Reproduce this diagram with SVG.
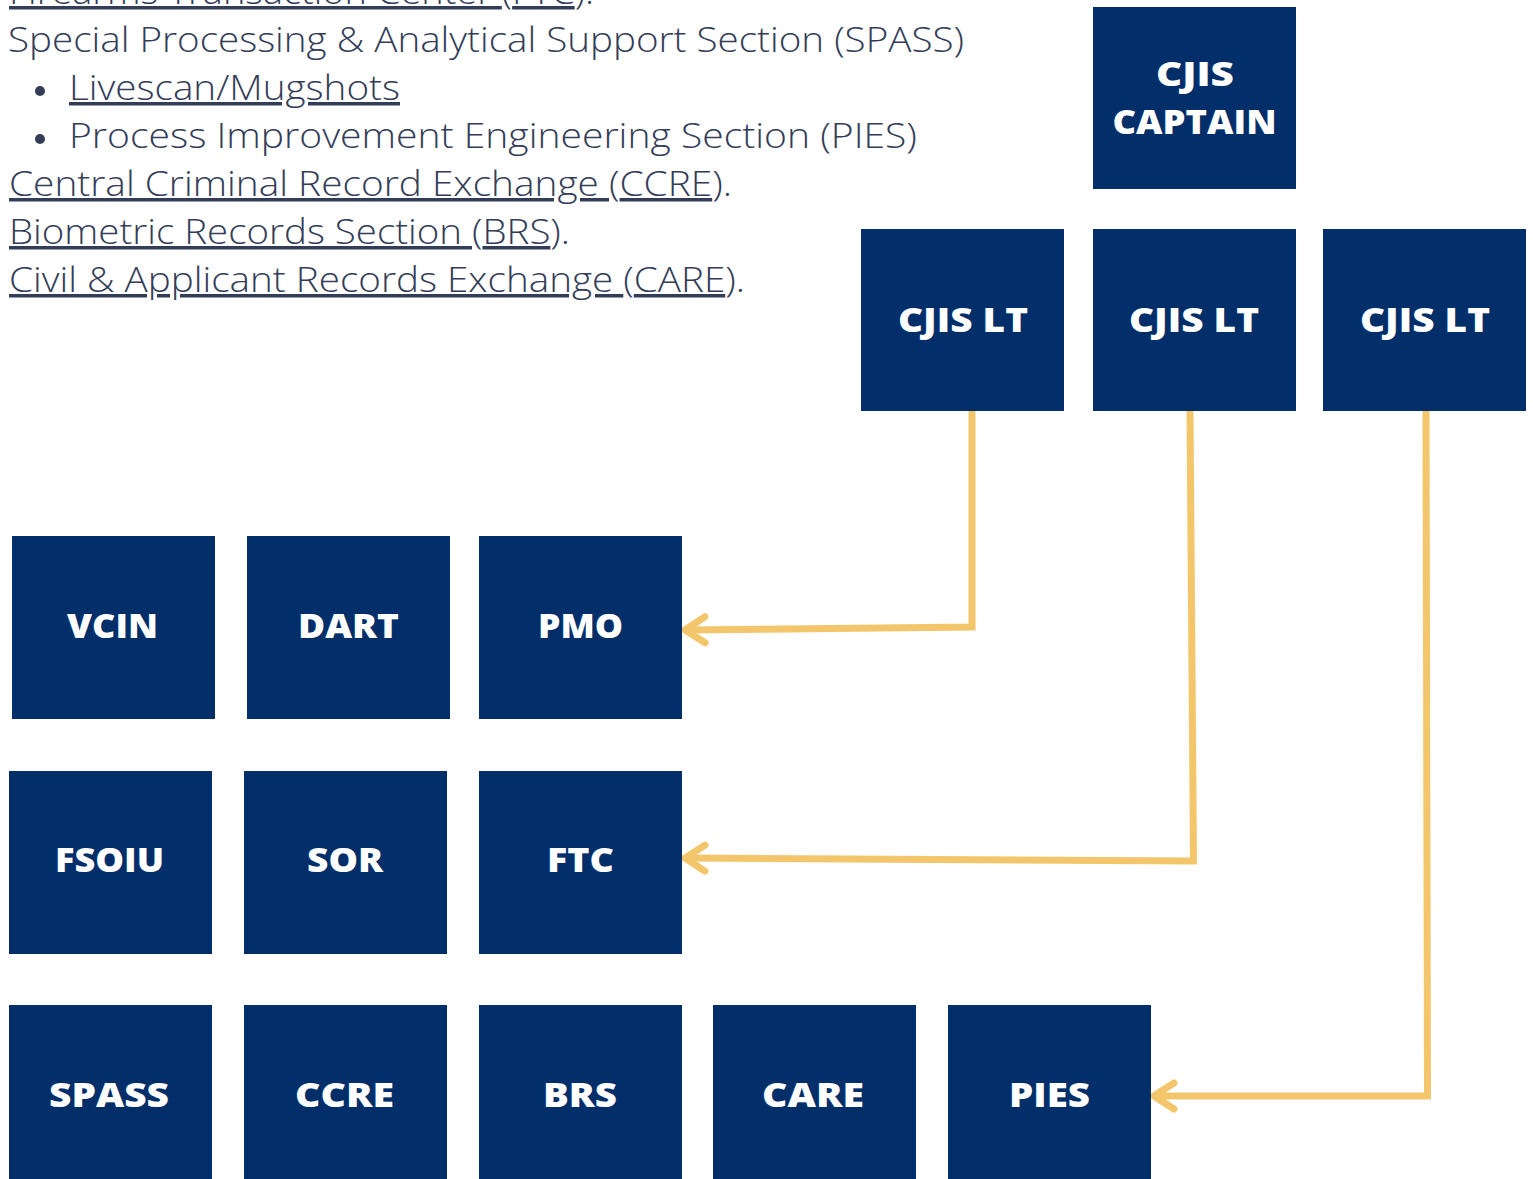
<svg xmlns="http://www.w3.org/2000/svg" width="1533" height="1179" viewBox="0 0 1533 1179">
<style>
  .body{font-family:"Open Sans","Liberation Sans",sans-serif;font-weight:300;font-size:35px;fill:#333D58;}
  .u{text-decoration:underline;}
  .box{fill:#022F6A;}
  .lbl{font-family:"Open Sans","Liberation Sans",sans-serif;font-weight:800;font-size:34px;fill:#FFFFFF;text-anchor:middle;}
  .conn{fill:none;stroke:#F4C66C;stroke-width:7;stroke-linejoin:miter;}
</style>
<defs>
  <marker id="arrow" markerUnits="userSpaceOnUse" viewBox="-30 -20 40 40" markerWidth="40" markerHeight="40" refX="0" refY="0" orient="auto" overflow="visible">
    <path d="M-20,-13 L0,0 L-20,13" fill="none" stroke="#F4C66C" stroke-width="7" stroke-linecap="round" stroke-linejoin="round"/>
  </marker>
</defs>
<rect width="1533" height="1179" fill="#FFFFFF"/>

<g id="text-list">
  <text class="body" x="9" y="4" textLength="585" lengthAdjust="spacingAndGlyphs"><tspan class="u">Firearms Transaction Center </tspan>(<tspan class="u">FTC</tspan>).</text>
  <text class="body" x="8" y="52" textLength="956" lengthAdjust="spacingAndGlyphs">Special Processing &amp; Analytical Support Section (SPASS)</text>
  <circle cx="40" cy="91" r="5" fill="#333D58"/>
  <text class="body" x="69" y="100" textLength="331" lengthAdjust="spacingAndGlyphs"><tspan class="u">Livescan/Mugshots</tspan></text>
  <circle cx="40" cy="139" r="5" fill="#333D58"/>
  <text class="body" x="69" y="148" textLength="848" lengthAdjust="spacingAndGlyphs">Process Improvement Engineering Section (PIES)</text>
  <text class="body" x="9" y="196" textLength="723" lengthAdjust="spacingAndGlyphs"><tspan class="u">Central Criminal Record Exchange </tspan>(<tspan class="u">CCRE</tspan>).</text>
  <text class="body" x="9" y="244" textLength="561" lengthAdjust="spacingAndGlyphs"><tspan class="u">Biometric Records Section </tspan>(<tspan class="u">BRS</tspan>).</text>
  <text class="body" x="9" y="292" textLength="736" lengthAdjust="spacingAndGlyphs"><tspan class="u">Civil &amp; Applicant Records Exchange </tspan>(<tspan class="u">CARE</tspan>).</text>
</g>

<g id="connectors">
  <path class="conn" d="M972,411 L972,627 L685,630" marker-end="url(#arrow)"/>
  <path class="conn" d="M1190,411 L1193.5,861 L685,858" marker-end="url(#arrow)"/>
  <path class="conn" d="M1426,411 L1427.5,1096 L1154,1096" marker-end="url(#arrow)"/>
</g>

<g id="node-captain">
  <rect class="box" x="1093" y="7" width="203" height="182"/>
  <text class="lbl" x="1195" y="86" textLength="78" lengthAdjust="spacingAndGlyphs">CJIS</text>
  <text class="lbl" x="1194.5" y="134" textLength="164" lengthAdjust="spacingAndGlyphs">CAPTAIN</text>
</g>
<g id="node-lt1">
  <rect class="box" x="861" y="229" width="203" height="182"/>
  <text class="lbl" x="963" y="332" textLength="130" lengthAdjust="spacingAndGlyphs">CJIS LT</text>
</g>
<g id="node-lt2">
  <rect class="box" x="1093" y="229" width="203" height="182"/>
  <text class="lbl" x="1194" y="332" textLength="130" lengthAdjust="spacingAndGlyphs">CJIS LT</text>
</g>
<g id="node-lt3">
  <rect class="box" x="1323" y="229" width="203" height="182"/>
  <text class="lbl" x="1425" y="332" textLength="130" lengthAdjust="spacingAndGlyphs">CJIS LT</text>
</g>

<g id="node-vcin">
  <rect class="box" x="12" y="536" width="203" height="183"/>
  <text class="lbl" x="112.5" y="638" textLength="91" lengthAdjust="spacingAndGlyphs">VCIN</text>
</g>
<g id="node-dart">
  <rect class="box" x="247" y="536" width="203" height="183"/>
  <text class="lbl" x="348.5" y="638" textLength="101" lengthAdjust="spacingAndGlyphs">DART</text>
</g>
<g id="node-pmo">
  <rect class="box" x="479" y="536" width="203" height="183"/>
  <text class="lbl" x="580.5" y="638" textLength="85" lengthAdjust="spacingAndGlyphs">PMO</text>
</g>

<g id="node-fsoiu">
  <rect class="box" x="9" y="771" width="203" height="183"/>
  <text class="lbl" x="109.5" y="872" textLength="109" lengthAdjust="spacingAndGlyphs">FSOIU</text>
</g>
<g id="node-sor">
  <rect class="box" x="244" y="771" width="203" height="183"/>
  <text class="lbl" x="345" y="872" textLength="76" lengthAdjust="spacingAndGlyphs">SOR</text>
</g>
<g id="node-ftc">
  <rect class="box" x="479" y="771" width="203" height="183"/>
  <text class="lbl" x="580.5" y="872" textLength="67" lengthAdjust="spacingAndGlyphs">FTC</text>
</g>

<g id="node-spass">
  <rect class="box" x="9" y="1005" width="203" height="180"/>
  <text class="lbl" x="109" y="1107" textLength="120" lengthAdjust="spacingAndGlyphs">SPASS</text>
</g>
<g id="node-ccre">
  <rect class="box" x="244" y="1005" width="203" height="180"/>
  <text class="lbl" x="344.5" y="1107" textLength="99" lengthAdjust="spacingAndGlyphs">CCRE</text>
</g>
<g id="node-brs">
  <rect class="box" x="479" y="1005" width="203" height="180"/>
  <text class="lbl" x="580" y="1107" textLength="74" lengthAdjust="spacingAndGlyphs">BRS</text>
</g>
<g id="node-care">
  <rect class="box" x="713" y="1005" width="203" height="180"/>
  <text class="lbl" x="813" y="1107" textLength="102" lengthAdjust="spacingAndGlyphs">CARE</text>
</g>
<g id="node-pies">
  <rect class="box" x="948" y="1005" width="203" height="180"/>
  <text class="lbl" x="1049.5" y="1107" textLength="81" lengthAdjust="spacingAndGlyphs">PIES</text>
</g>
</svg>
